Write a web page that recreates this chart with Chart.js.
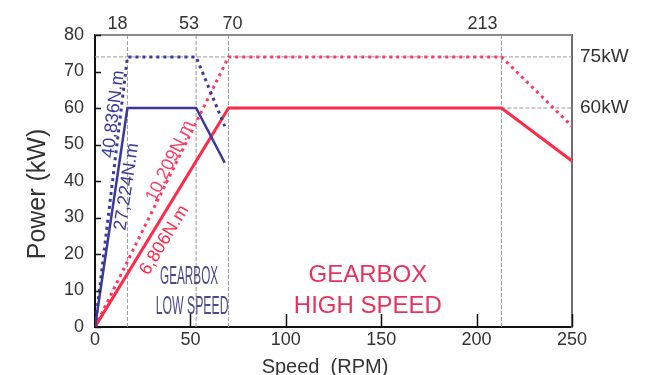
<!DOCTYPE html>
<html><head><meta charset="utf-8">
<script src="https://cdn.jsdelivr.net/npm/chart.js@4.4.1/dist/chart.umd.min.js"></script>
<style>html,body{margin:0;padding:0;background:#fff}</style>
</head><body>
<canvas id="c" width="658" height="375"></canvas>
<script>
// ---- data ----
const lowSpeedX   = [0, 17, 53, 68];
const lowSolidKW  = [0, 60, 60, 45];
const lowDottedKW = [0, 74, 74, 55];
const highSpeedX   = [0, 70, 213, 250];
const highSolidKW  = [0, 60, 60, 45.5];
const highDottedKW = [0, 74, 74, 55];
const refSpeeds = [17, 53, 70, 213];
const refSpeedLabels = ['18', '53', '70', '213'];
const refPowers = [74, 60];
const refPowerLabels = ['75kW', '60kW'];
const refPowerFrom = [0, 213];
const xTickValues = [0, 50, 100, 150, 200, 250];
const yTickValues = [0, 10, 20, 30, 40, 50, 60, 70, 80];
const torqueLabels = ['40,836N.m', '27,224N.m', '10,209N.m', '6,806N.m'];

const FONT = 'Liberation Sans, Arial, Helvetica, sans-serif';
const BLUE = '#3a3a9e', RED = '#ff2a48', RED_DOT = '#ff3a62';
Chart.defaults.font.family = FONT;

const pts = (xs, ys) => xs.map((x, i) => ({x, y: ys[i]}));
const datasets = [
  {data: pts(lowSpeedX, lowSolidKW), borderColor: BLUE, borderWidth: 2.5, order: 0},
  {data: pts(lowSpeedX, lowDottedKW), borderColor: BLUE, borderWidth: 3, borderDash: [3, 4], order: 0},
  {data: pts(highSpeedX, highSolidKW), borderColor: RED, borderWidth: 3, order: 0},
  {data: pts(highSpeedX, highDottedKW), borderColor: RED_DOT, borderWidth: 3, borderDash: [3, 4], order: 0},
];
refSpeeds.forEach(v => datasets.push({data: [{x: v, y: 0}, {x: v, y: 80}], borderColor: '#9a9a9a', borderWidth: 1, borderDash: [4, 2], order: 1}));
refPowers.forEach((p, i) => datasets.push({data: [{x: refPowerFrom[i], y: p}, {x: 250, y: p}], borderColor: '#9a9a9a', borderWidth: 1, borderDash: [4, 2], order: 1}));

const deco = {
  id: 'deco',
  afterDatasetsDraw(chart) {
    const {ctx, chartArea: ca, scales: {x, y}} = chart;
    ctx.save();
    // frame top
    ctx.strokeStyle = '#8a8a8a'; ctx.lineWidth = 2;
    ctx.beginPath(); ctx.moveTo(ca.left, ca.top); ctx.lineTo(ca.right, ca.top); ctx.stroke();
    // inward ticks
    ctx.strokeStyle = '#111'; ctx.lineWidth = 1.5;
    yTickValues.forEach(v => { const py = Math.round(y.getPixelForValue(v)) + 0.5; ctx.beginPath(); ctx.moveTo(ca.left, py); ctx.lineTo(ca.left + 6, py); ctx.stroke(); });
    xTickValues.slice(1).forEach(v => { const px = Math.round(x.getPixelForValue(v)) + 0.5; ctx.beginPath(); ctx.moveTo(px, ca.bottom); ctx.lineTo(px, ca.bottom - 13); ctx.stroke(); });
    // top reference labels
    const nudge = [-10, -7, 4, -19];
    ctx.fillStyle = '#333'; ctx.font = '18px ' + FONT; ctx.textAlign = 'center'; ctx.textBaseline = 'middle';
    refSpeeds.forEach((v, i) => ctx.fillText(refSpeedLabels[i], x.getPixelForValue(v) + nudge[i], 24));
    // torque labels along lines
    const defs = [
      {xs: lowSpeedX, ys: lowDottedKW, t: 0.785, n: 7, c: BLUE},
      {xs: lowSpeedX, ys: lowSolidKW, t: 0.648, n: -11, c: BLUE},
      {xs: highSpeedX, ys: highDottedKW, t: 0.604, n: 6, c: RED_DOT},
      {xs: highSpeedX, ys: highSolidKW, t: 0.43, n: -14, c: RED},
    ];
    defs.forEach((d, i) => {
      const x0 = x.getPixelForValue(d.xs[0]), y0 = y.getPixelForValue(d.ys[0]);
      const x1 = x.getPixelForValue(d.xs[1]), y1 = y.getPixelForValue(d.ys[1]);
      const a = Math.atan2(y1 - y0, x1 - x0);
      const cx = x0 + d.t * (x1 - x0) + d.n * Math.sin(a);
      const cy = y0 + d.t * (y1 - y0) - d.n * Math.cos(a);
      ctx.save(); ctx.translate(cx, cy); ctx.rotate(a);
      ctx.fillStyle = d.c; ctx.font = '18px ' + FONT; ctx.textAlign = 'center'; ctx.textBaseline = 'middle';
      ctx.fillText(torqueLabels[i], 0, 0); ctx.restore();
    });
    // gearbox notes
    const note = (txt, vx, vy, size, sx, color) => {
      ctx.save(); ctx.translate(x.getPixelForValue(vx), y.getPixelForValue(vy)); ctx.scale(sx, 1);
      ctx.fillStyle = color; ctx.font = size + 'px ' + FONT; ctx.textAlign = 'center'; ctx.textBaseline = 'middle';
      ctx.fillText(txt, 0, 0); ctx.restore();
    };
    note('GEARBOX', 49.3, 13.7, 25, 0.47, '#4b4b8c');
    note('LOW SPEED', 50.9, 5.5, 25, 0.49, '#4b4b8c');
    note('GEARBOX', 143, 14.2, 24, 1, '#e8325c');
    note('HIGH SPEED', 143, 5.75, 24, 1, '#e8325c');
    // axis titles
    ctx.fillStyle = '#333';
    ctx.save(); ctx.translate(38, 194); ctx.rotate(-Math.PI / 2);
    ctx.font = '25px ' + FONT; ctx.textAlign = 'center'; ctx.textBaseline = 'middle';
    ctx.fillText('Power (kW)', 0, 0); ctx.restore();
    ctx.font = '20px ' + FONT; ctx.textAlign = 'center'; ctx.textBaseline = 'alphabetic';
    ctx.fillText('Speed  (RPM)', 325, 373);
    ctx.restore();
  }
};

new Chart(document.getElementById('c'), {
  type: 'scatter',
  data: {datasets},
  options: {
    responsive: false, animation: false, devicePixelRatio: 1,
    showLine: true,
    layout: {padding: {top: 35, left: 0, right: 0, bottom: 0}},
    elements: {point: {radius: 0}, line: {tension: 0, fill: false}},
    plugins: {legend: {display: false}, tooltip: {enabled: false}},
    scales: {
      x: {type: 'linear', position: 'bottom', min: 0, max: 250,
        afterBuildTicks: s => { s.ticks = xTickValues.map(v => ({value: v})); },
        ticks: {font: {size: 18}, color: '#333', padding: 2, maxRotation: 0, autoSkip: false},
        grid: {display: false, drawTicks: false},
        border: {display: true, color: '#111', width: 2},
        afterFit: s => { s.height = 48; }},
      y: {type: 'linear', position: 'left', min: 0, max: 80,
        afterBuildTicks: s => { s.ticks = yTickValues.map(v => ({value: v})); },
        ticks: {font: {size: 18}, color: '#333', padding: 11, autoSkip: false},
        grid: {display: false, drawTicks: false},
        border: {display: true, color: '#111', width: 2},
        afterFit: s => { s.width = 95; }},
      y2: {type: 'linear', position: 'right', min: 0, max: 80,
        afterBuildTicks: s => { s.ticks = refPowers.map(v => ({value: v})); },
        ticks: {font: {size: 19}, color: '#333', padding: 8, autoSkip: false,
          callback: v => refPowerLabels[refPowers.indexOf(v)]},
        grid: {display: false, drawTicks: false},
        border: {display: true, color: '#707070', width: 2},
        afterFit: s => { s.width = 86; }}
    }
  },
  plugins: [deco]
});
</script>
</body></html>
